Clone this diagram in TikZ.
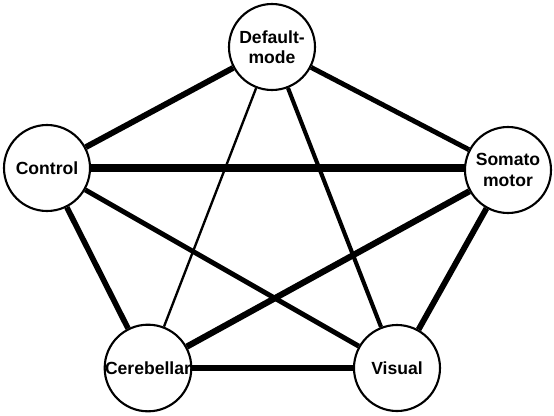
\documentclass[tikz,border=0pt]{standalone}
\usepackage{fontspec}
\setmainfont{Liberation Sans}
\usetikzlibrary{positioning,backgrounds}
\tikzset{
  netnode/.style={draw=black, fill=white, circle, line width=1.8pt, minimum size=2.58cm, inner sep=0pt, align=center, font=\fontsize{15}{17.5}\selectfont\bfseries},
  link/.style={line width=#1, black}
}

\begin{document}
\begin{tikzpicture}[x=0.03cm, y=-0.03cm]
  \useasboundingbox (0,0) rectangle (554,415);

  %% Networks
  \node[netnode] (dmn)  at (272,47)  {Default-\\mode};
  \node[netnode] (ctrl) at (47,168)  {Control};
  \node[netnode] (som)  at (508,170) {Somato\\motor};
  \node[netnode] (cer)  at (148,368) {Cerebellar};
  \node[netnode] (vis)  at (397,368) {Visual};

  %% Connections
  \begin{pgfonlayer}{background}
    \draw[link=6.2pt] (ctrl.center) -- (ctrl.center -| som.center);
    \draw[link=5.0pt] (dmn) -- (ctrl);
    \draw[link=4.2pt] (dmn) -- (som);
    \draw[link=2.0pt] (dmn) -- (cer);
    \draw[link=3.5pt] (dmn) -- (vis);
    \draw[link=4.8pt] (ctrl) -- (cer);
    \draw[link=4.2pt] (ctrl) -- (vis);
    \draw[link=5.3pt] (som) -- (cer);
    \draw[link=5.0pt] (som) -- (vis);
    \draw[link=5.0pt] (cer) -- (vis);
  \end{pgfonlayer}
\end{tikzpicture}
\end{document}
